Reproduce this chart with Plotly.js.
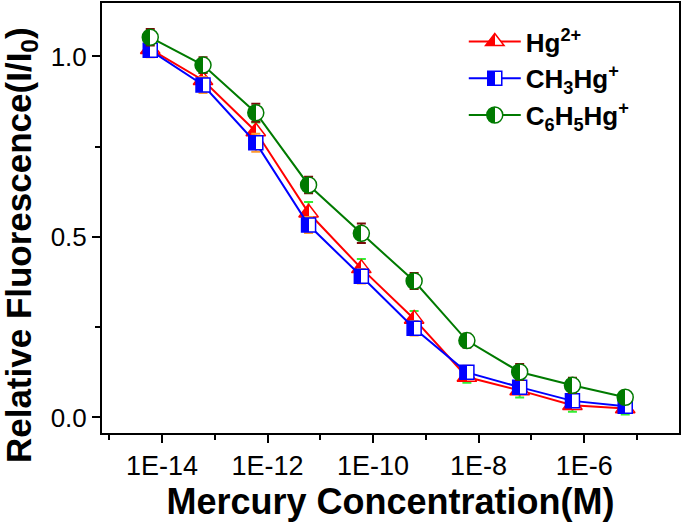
<!DOCTYPE html>
<html>
<head>
<meta charset="utf-8">
<script src="https://cdn.plot.ly/plotly-3.0.1.min.js"></script>
<style>
html,body{margin:0;padding:0;background:#ffffff;}
#chart{width:685px;height:523px;}
</style>
</head>
<body>
<div id="chart"></div>
<script>
// Mercury concentration (M)
const concentration = [6e-15, 6e-14, 6e-13, 6e-12, 6e-11, 6e-10, 6e-9, 6e-8, 6e-7, 6e-6];

// Relative fluorescence I/I0
const hg2 = [1.020, 0.934, 0.792, 0.567, 0.413, 0.273, 0.112, 0.075, 0.034, 0.025];
const hg2Err = [0.020, 0.020, 0.025, 0.030, 0.026, 0.022, 0.016, 0.020, 0.018, 0.017];

const ch3hg = [1.017, 0.921, 0.761, 0.533, 0.391, 0.247, 0.125, 0.084, 0.046, 0.031];
const ch3hgErr = [0.019, 0.022, 0.025, 0.022, 0.020, 0.020, 0.018, 0.018, 0.016, 0.014];

const c6h5hg = [1.053, 0.976, 0.844, 0.644, 0.510, 0.378, 0.213, 0.126, 0.089, 0.056];
const c6h5hgErr = [0.023, 0.022, 0.025, 0.023, 0.027, 0.022, 0.019, 0.022, 0.021, 0.018];

const seriesNames = ['Hg<sup>2+</sup>', 'CH<sub>3</sub>Hg<sup>+</sup>', 'C<sub>6</sub>H<sub>5</sub>Hg<sup>+</sup>'];

const xTickVals = [1e-14, 1e-12, 1e-10, 1e-8, 1e-6];
const xTickText = ['1E-14', '1E-12', '1E-10', '1E-8', '1E-6'];
const xMinorVals = [1e-15, 1e-13, 1e-11, 1e-9, 1e-7, 1e-5];
const yTickVals = [0.0, 0.5, 1.0];
const yTickText = ['0.0', '0.5', '1.0'];
const yMinorVals = [0.25, 0.75];

const xTitle = 'Mercury Concentration(M)';
const yTitle = 'Relative Fluorescence(I/I<sub>0</sub>)';

const FONT = '"Liberation Sans", Arial, Helvetica, sans-serif';

function series(name, y, err, color, errColor, symbol, size) {
  return {
    type: 'scatter',
    mode: 'lines+markers',
    name: name,
    x: concentration,
    y: y,
    line: {color: color, width: 2},
    marker: {
      symbol: symbol,
      size: size,
      color: color,
      gradient: {type: 'horizontal', color: '#ffffff'},
      line: {color: color, width: 1.5}
    },
    error_y: {type: 'data', array: err, visible: true, color: errColor, thickness: 2, width: 4.5}
  };
}

const data = [
  series(seriesNames[0], hg2, hg2Err, '#ff0000', '#33ee33', 'triangle-up', 17),
  series(seriesNames[1], ch3hg, ch3hgErr, '#0000ff', '#ff9a2e', 'square', 14),
  series(seriesNames[2], c6h5hg, c6h5hgErr, '#007a00', '#7a0a0a', 'circle', 16)
];

const layout = {
  width: 685,
  height: 523,
  margin: {l: 102, r: 6, t: 3, b: 90, pad: 0},
  paper_bgcolor: '#ffffff',
  plot_bgcolor: '#ffffff',
  font: {family: FONT, color: '#000000'},
  showlegend: true,
  legend: {
    x: 0.627, y: 0.965, xanchor: 'left', yanchor: 'top',
    bgcolor: 'rgba(0,0,0,0)', borderwidth: 0,
    itemwidth: 52,
    font: {family: FONT, size: 26, color: '#000000', weight: 'bold'},
    tracegroupgap: 0
  },
  annotations: [{
    text: yTitle,
    xref: 'paper', yref: 'paper',
    x: -0.1404, y: 0.437,
    xanchor: 'center', yanchor: 'middle',
    textangle: -90,
    showarrow: false,
    font: {family: FONT, size: 35, color: '#000000', weight: 'bold'}
  }],
  xaxis: {
    type: 'log',
    range: [-15.136, -4.203],
    tickmode: 'array',
    tickvals: xTickVals,
    ticktext: xTickText,
    ticks: 'outside',
    ticklen: 8,
    tickwidth: 2,
    tickcolor: '#000000',
    minor: {tickmode: 'array', tickvals: xMinorVals, ticks: 'outside', ticklen: 5, tickwidth: 2, tickcolor: '#000000', showgrid: false},
    showgrid: false,
    zeroline: false,
    showline: true,
    mirror: true,
    linecolor: '#000000',
    linewidth: 2,
    tickfont: {family: FONT, size: 27, color: '#000000'},
    title: {text: xTitle, font: {family: FONT, size: 36, color: '#000000', weight: 'bold'}, standoff: 8}
  },
  yaxis: {
    range: [-0.043, 1.148],
    tickmode: 'array',
    tickvals: yTickVals,
    ticktext: yTickText,
    ticks: 'outside',
    ticklen: 8,
    tickwidth: 2,
    tickcolor: '#000000',
    minor: {tickmode: 'array', tickvals: yMinorVals, ticks: 'outside', ticklen: 5, tickwidth: 2, tickcolor: '#000000', showgrid: false},
    showgrid: false,
    zeroline: false,
    showline: true,
    mirror: true,
    linecolor: '#000000',
    linewidth: 2,
    tickfont: {family: FONT, size: 26, color: '#000000'}
  }
};

function hardenGradients(gd) {
  gd.querySelectorAll('linearGradient').forEach(function (g) {
    const stops = g.querySelectorAll('stop');
    if (stops.length !== 2) return;
    const a = stops[0], b = stops[1];
    const a2 = a.cloneNode(true); a2.setAttribute('offset', '50%');
    const b2 = b.cloneNode(true); b2.setAttribute('offset', '50%');
    g.insertBefore(a2, b);
    g.insertBefore(b2, b);
  });
}

const gd = document.getElementById('chart');
Plotly.newPlot(gd, data, layout, {staticPlot: true, displayModeBar: false}).then(function () {
  hardenGradients(gd);
});
</script>
</body>
</html>
